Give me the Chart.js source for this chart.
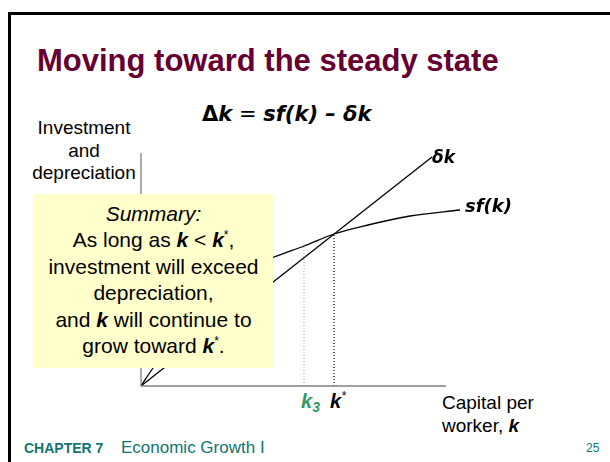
<!DOCTYPE html>
<html>
<head>
<meta charset="utf-8">
<script src="https://cdn.jsdelivr.net/npm/chart.js@4.4.0/dist/chart.umd.min.js"></script>
<style>
  body { margin: 0; width: 610px; height: 462px; overflow: hidden; background: #fff;
         font-family: "Liberation Sans", Arial, sans-serif; position: relative; }
  .t { position: absolute; white-space: nowrap; }
  .frame { position: absolute; left: 8px; top: 12px; width: 800px; height: 600px;
           border-left: 3px solid #000; border-top: 3px solid #000; }
  .bi { font-weight: bold; font-style: italic; }
  .vd { font-family: "DejaVu Sans", sans-serif; font-weight: bold; font-style: oblique; }
  .st { font-size: 12px; line-height: 0; position: relative; top: -8px; vertical-align: baseline; }
  #box { position: absolute; left: 34px; top: 194px; width: 239px; height: 174px;
         background: #ffffcc; text-align: center; font-size: 21px; line-height: 26.4px;
         padding-top: 7px; box-sizing: border-box; z-index: 3; color: #000; }
  #wrap { position: absolute; left: 0; top: 0; width: 610px; height: 462px; z-index: 2; }
</style>
</head>
<body>
<div class="frame"></div>

<div class="t" style="left:37px; top:45px; font-size:31px; line-height:31px; font-weight:bold; color:#660033;">Moving toward the steady state</div>

<div class="t vd" style="left:202px; top:104px; font-size:21px; line-height:21px;"><span style="font-style:normal">&Delta;</span>k<span style="font-weight:normal; font-style:normal"> = </span>sf(k) &ndash; &delta;k</div>

<div class="t" style="left:24px; width:120px; text-align:center; top:118px; font-size:19px; line-height:19px;">Investment</div>
<div class="t" style="left:24px; width:120px; text-align:center; top:141px; font-size:19px; line-height:19px;">and</div>
<div class="t" style="left:24px; width:120px; text-align:center; top:163px; font-size:19px; line-height:19px;">depreciation</div>

<div id="wrap"><canvas id="chart" width="610" height="462"></canvas></div>

<div class="t vd" style="left:432px; top:149px; font-size:17px; line-height:17px; z-index:4;">&delta;k</div>
<div class="t vd" style="left:465px; top:197px; font-size:18px; line-height:18px; z-index:4;">sf(k)</div>

<div class="t bi" style="left:301px; top:391px; font-size:20px; line-height:20px; color:#339966;">k<span style="font-size:14px; position:relative; top:4px;">3</span></div>
<div class="t bi" style="left:330px; top:391px; font-size:20px; line-height:20px;">k<span class="st" style="font-weight:normal;">*</span></div>

<div class="t" style="left:442px; top:393px; font-size:19px; line-height:19px;">Capital per</div>
<div class="t" style="left:442px; top:416px; font-size:19px; line-height:19px;">worker, <span class="bi">k</span></div>

<div id="box">
  <i>Summary:</i><br>
  As long as <span class="bi">k</span> &lt; <span class="bi">k</span><span class="st">*</span>,<br>
  investment will exceed<br>
  depreciation,<br>
  and <span class="bi">k</span> will continue to<br>
  grow toward <span class="bi">k</span><span class="st">*</span>.
</div>

<div class="t" style="left:24px; top:441px; font-size:14px; line-height:14px; font-weight:bold; color:#107571;">CHAPTER 7</div>
<div class="t" style="left:121px; top:439.4px; font-size:17px; line-height:17px; color:#107571;">Economic Growth I</div>
<div class="t" style="left:586px; top:442px; font-size:12px; line-height:12px; color:#107571;">25</div>

<script>
// capital per worker (k) and heights
const axisK = [0, 305];
const axisTop = 233;
const depK = [0, 291];
const depY = [0, 229];
const sfK = [0, 12, 25, 40, 60, 80, 100, 120, 133, 163, 193, 227, 269, 319];
const sfY = [0, 18, 36, 55, 77, 96, 111, 123, 129, 140, 152, 161, 170, 176];
const k3 = 163;
const k3Height = 140;
const kStar = 193;
const kStarHeight = 152;

const pts = (xs, ys) => xs.map((x, i) => ({ x: x, y: ys[i] }));

new Chart(document.getElementById('chart').getContext('2d'), {
  type: 'scatter',
  data: {
    datasets: [
      { data: [{ x: 0, y: 0 }, { x: 0, y: axisTop }], borderColor: '#808080', borderWidth: 1.3 },
      { data: pts(axisK, [0, 0]), borderColor: '#808080', borderWidth: 1.3 },
      { data: [{ x: k3, y: 0 }, { x: k3, y: k3Height }], borderColor: '#9a9a9a', borderWidth: 1, borderDash: [1, 2] },
      { data: [{ x: kStar, y: 0 }, { x: kStar, y: kStarHeight }], borderColor: '#000', borderWidth: 1.2, borderDash: [1, 2] },
      { data: pts(depK, depY), borderColor: '#000', borderWidth: 1.3 },
      { data: pts(sfK, sfY), borderColor: '#000', borderWidth: 1.3, cubicInterpolationMode: 'monotone' }
    ].map(d => Object.assign({ showLine: true, pointRadius: 0, fill: false }, d))
  },
  options: {
    responsive: false,
    animation: false,
    layout: { padding: 0 },
    plugins: { legend: { display: false }, tooltip: { enabled: false } },
    scales: {
      x: { type: 'linear', min: -141, max: 469, display: false },
      y: { type: 'linear', min: -76, max: 386, display: false }
    }
  }
});
</script>
</body>
</html>
